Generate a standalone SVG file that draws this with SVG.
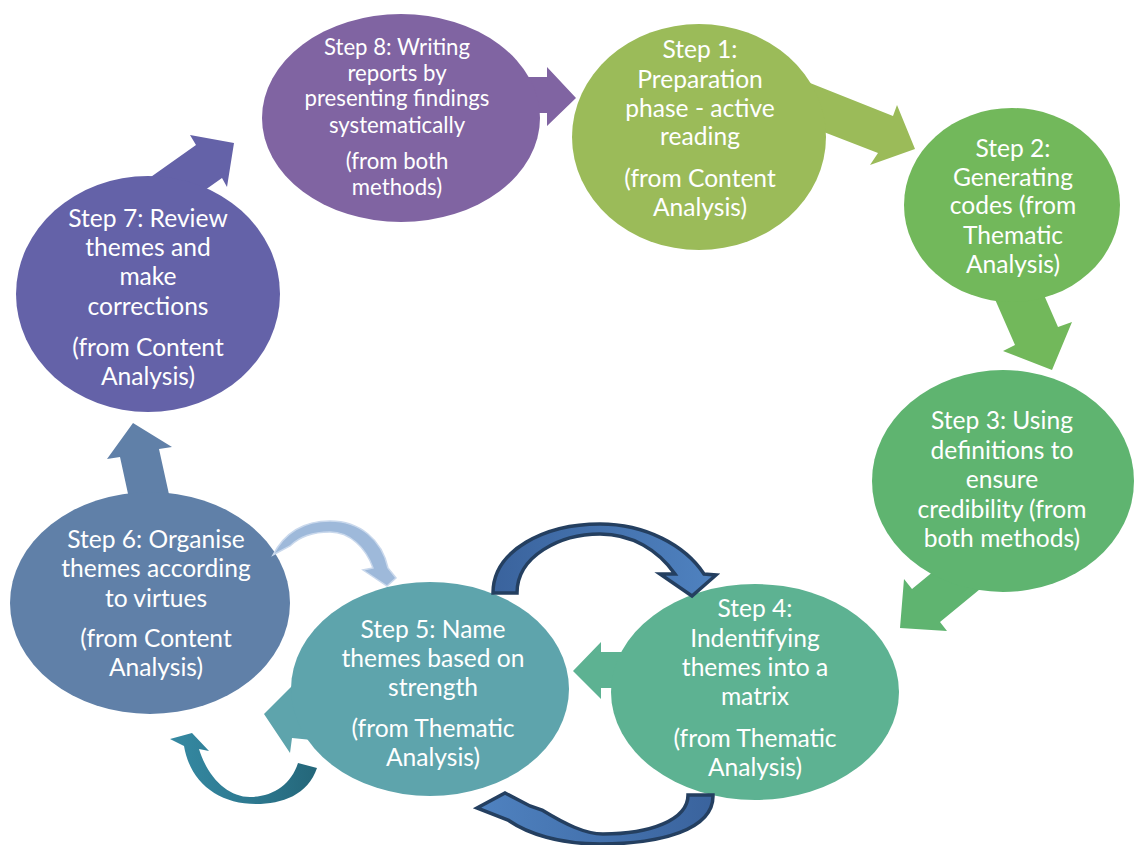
<svg xmlns="http://www.w3.org/2000/svg" width="1134" height="845" viewBox="0 0 1134 845">
<defs>
<style>
.t{font-family:Lato,"Liberation Sans",sans-serif;font-size:24.6px;fill:#ffffff;text-anchor:middle}
.s{font-size:22.2px}
</style>
<linearGradient id="gDark" x1="0" y1="0" x2="1" y2="0">
<stop offset="0" stop-color="#3A639D"/><stop offset="1" stop-color="#4F82C0"/>
</linearGradient>
<linearGradient id="gDark2" x1="1" y1="0" x2="0" y2="0">
<stop offset="0" stop-color="#3A639D"/><stop offset="1" stop-color="#4F82C0"/>
</linearGradient>
<linearGradient id="gTeal" x1="0" y1="0" x2="1" y2="0">
<stop offset="0" stop-color="#3589A2"/><stop offset="0.55" stop-color="#2D7990"/><stop offset="1" stop-color="#246679"/>
</linearGradient>
</defs>
<rect width="1134" height="845" fill="#ffffff"/>
<g id="connectors">
<polygon id="a8" fill="#8064A2" points="500,77 547,77 547,67 576,98 547,126 547,113 500,113"/>
<polygon id="a1" fill="#9BBB59" points="800,79 893,116 897,105 915,149 870,165 878,153 785,117"/>
<polygon id="a2" fill="#72B85B" points="1030,263 1058,327 1072,322 1052,370 1003,351 1015,345 987,281"/>
<polygon id="a3" fill="#5FB470" points="974,538 912,589 904,579 900,628 947,631 940,622 1002,571"/>
<polygon id="a4" fill="#5DB292" points="650,652 601,652 601,642 573,671 601,699 601,688 650,688"/>
<polygon id="a5" fill="#5EA4AC" points="356,702 296,696 297,681 264,714 290,753 292,738 352,744"/>
<polygon id="a6" fill="#6080A8" points="135,526 120,457 107,459 133,423 172,447 159,449 174,517"/>
<polygon id="a7" fill="#6462A8" points="131,191 196,145 190,135 234,143 227,187 222,178 157,224"/>
</g>
<g id="step8"><ellipse cx="401" cy="118" rx="139" ry="104" fill="#8064A2"/>
<text class="t s"><tspan x="397" y="55">Step 8: Writing</tspan><tspan x="397" y="81">reports by</tspan><tspan x="397" y="106">presenting findings</tspan><tspan x="397" y="133">systematically</tspan><tspan x="397" y="169">(from both</tspan><tspan x="397" y="195">methods)</tspan></text></g>
<g id="step1"><ellipse cx="699" cy="137" rx="127" ry="113" fill="#9BBB59"/>
<text class="t"><tspan x="700" y="58">Step 1:</tspan><tspan x="700" y="88">Preparation</tspan><tspan x="700" y="117">phase - active</tspan><tspan x="700" y="145">reading</tspan><tspan x="700" y="187">(from Content</tspan><tspan x="700" y="216">Analysis)</tspan></text></g>
<g id="step2"><ellipse cx="1012" cy="205" rx="108" ry="97" fill="#72B85B"/>
<text class="t"><tspan x="1013" y="157">Step 2:</tspan><tspan x="1013" y="186">Generating</tspan><tspan x="1013" y="214">codes (from</tspan><tspan x="1013" y="244">Thematic</tspan><tspan x="1013" y="273">Analysis)</tspan></text></g>
<g id="step3"><ellipse cx="1003" cy="481" rx="131" ry="111" fill="#5FB470"/>
<text class="t"><tspan x="1002" y="429">Step 3: Using</tspan><tspan x="1002" y="459">definitions to</tspan><tspan x="1002" y="488">ensure</tspan><tspan x="1002" y="518">credibility (from</tspan><tspan x="1002" y="547">both methods)</tspan></text></g>
<g id="step4"><ellipse cx="755" cy="692" rx="144" ry="108" fill="#5DB292"/>
<text class="t"><tspan x="755" y="617">Step 4:</tspan><tspan x="755" y="647">Indentifying</tspan><tspan x="755" y="676">themes into a</tspan><tspan x="755" y="705">matrix</tspan><tspan x="755" y="747">(from Thematic</tspan><tspan x="755" y="776">Analysis)</tspan></text></g>
<g id="step5"><ellipse cx="430" cy="689" rx="139" ry="107" fill="#5EA4AC"/>
<text class="t"><tspan x="433" y="638">Step 5: Name</tspan><tspan x="433" y="667">themes based on</tspan><tspan x="433" y="696">strength</tspan><tspan x="433" y="737">(from Thematic</tspan><tspan x="433" y="766">Analysis)</tspan></text></g>
<g id="step6"><ellipse cx="150" cy="603" rx="140" ry="111" fill="#6080A8"/>
<text class="t"><tspan x="156" y="548">Step 6: Organise</tspan><tspan x="156" y="577">themes according</tspan><tspan x="156" y="607">to virtues</tspan><tspan x="156" y="647">(from Content</tspan><tspan x="156" y="676">Analysis)</tspan></text></g>
<g id="step7"><ellipse cx="148" cy="294" rx="132" ry="118" fill="#6462A8"/>
<text class="t"><tspan x="148" y="227">Step 7: Review</tspan><tspan x="148" y="256">themes and</tspan><tspan x="148" y="285">make</tspan><tspan x="148" y="315">corrections</tspan><tspan x="148" y="356">(from Content</tspan><tspan x="148" y="385">Analysis)</tspan></text></g>
<g id="curved">
<path id="c54" fill="url(#gDark)" stroke="#243F60" stroke-width="3.5" d="M493,593 C493,550 545,524 600,524 C645,524 685,545 704,574 L716,575 L692,596 L660,574 L675,574 C658,550 632,534 600,534 C560,534 517,556 517,593 Z"/>
<path id="c45" fill="url(#gDark2)" stroke="#243F60" stroke-width="3.5" d="M688,795 L713,795 C714,830 660,844 600,844 C560,844 528,834 508,820 L477,808 L505,793 L530,806 L542,810 C565,824 585,834 603,834 C650,834 688,820 688,795 Z"/>
<path id="c65" fill="#93B1D6" fill-opacity="0.9" stroke="#C9D8EC" stroke-width="1.5" d="M273,555 C285,532 305,521 330,521 C360,521 382,540 388,568 L396,578 L387,586 L363,570 L373,568 C366,548 350,532 330,532 C312,532 298,538 290,546 Z"/>
<path id="c56" fill="url(#gTeal)" d="M317,768 C308,795 282,804 256,804 C218,804 190,782 184,746 L170,739 L192,733 L209,751 L199,749 C208,778 228,797 250,797 C272,797 291,785 298,763 Z"/>
</g>
</svg>
